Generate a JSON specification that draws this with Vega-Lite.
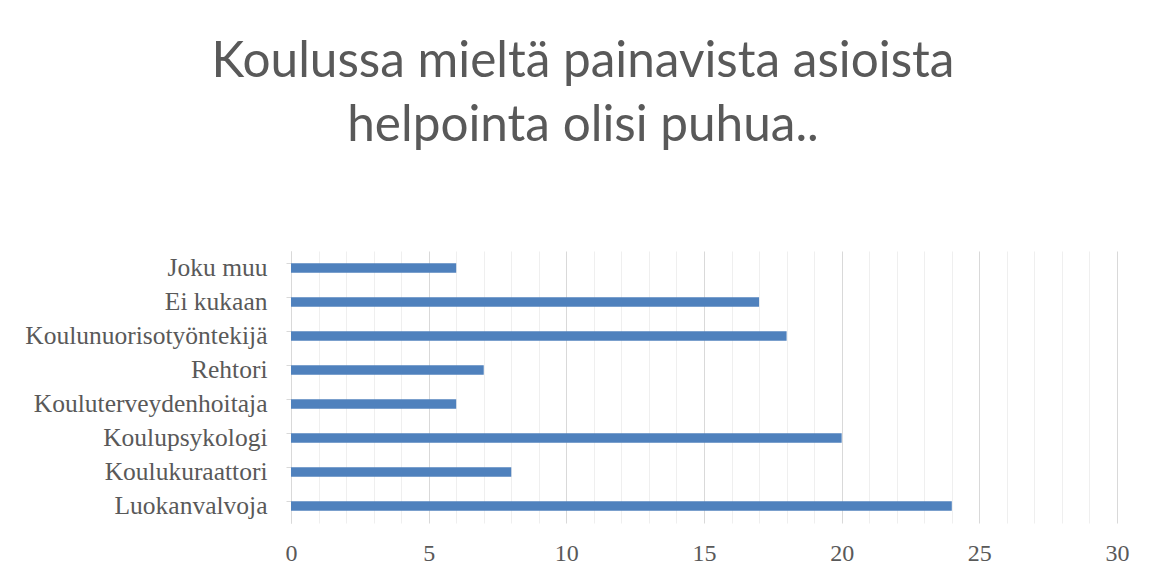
{
  "$schema": "https://vega.github.io/schema/vega-lite/v6.json",
  "autosize": {"type": "none"},
  "width": 826,
  "height": 272,
  "padding": {"left": 291, "top": 251, "right": 35, "bottom": 56},
  "background": "white",
  "title": {
    "text": ["Koulussa mieltä painavista asioista", "helpointa olisi puhua.."],
    "font": "Lato",
    "fontSize": 49.5,
    "fontWeight": "normal",
    "color": "#595959",
    "lineHeight": 64,
    "anchor": "middle",
    "dx": -121,
    "offset": 100
  },
  "data": {
    "values": [
      {"kohde": "Joku muu", "maara": 6},
      {"kohde": "Ei kukaan", "maara": 17},
      {"kohde": "Koulunuorisotyöntekijä", "maara": 18},
      {"kohde": "Rehtori", "maara": 7},
      {"kohde": "Kouluterveydenhoitaja", "maara": 6},
      {"kohde": "Koulupsykologi", "maara": 20},
      {"kohde": "Koulukuraattori", "maara": 8},
      {"kohde": "Luokanvalvoja", "maara": 24}
    ]
  },
  "mark": {"type": "bar", "color": "#4f81bd"},
  "encoding": {
    "y": {
      "field": "kohde",
      "type": "nominal",
      "sort": null,
      "title": null,
      "scale": {"paddingInner": 0.72, "paddingOuter": 0.36},
      "axis": {
        "bandPosition": 0,
        "grid": false,
        "domainColor": "#d9d9d9",
        "tickColor": "#d9d9d9",
        "tickSize": 5,
        "labelPadding": 19,
        "labelFont": "Liberation Serif",
        "labelFontSize": 25.5,
        "labelColor": "#595959",
        "labelLimit": 400
      }
    },
    "x": {
      "field": "maara",
      "type": "quantitative",
      "title": null,
      "scale": {"domain": [0, 30], "nice": false},
      "axis": {
        "values": [0,1,2,3,4,5,6,7,8,9,10,11,12,13,14,15,16,17,18,19,20,21,22,23,24,25,26,27,28,29,30],
        "labelExpr": "datum.value % 5 === 0 ? datum.label : ''",
        "gridColor": {"condition": {"test": "datum.value % 5 === 0", "value": "#d9d9d9"}, "value": "#efefef"},
        "gridWidth": 1,
        "domain": false,
        "ticks": false,
        "labelPadding": 18,
        "labelFont": "Liberation Serif",
        "labelFontSize": 24,
        "labelColor": "#595959",
        "labelFlush": false
      }
    }
  },
  "config": {"view": {"stroke": null}}
}
